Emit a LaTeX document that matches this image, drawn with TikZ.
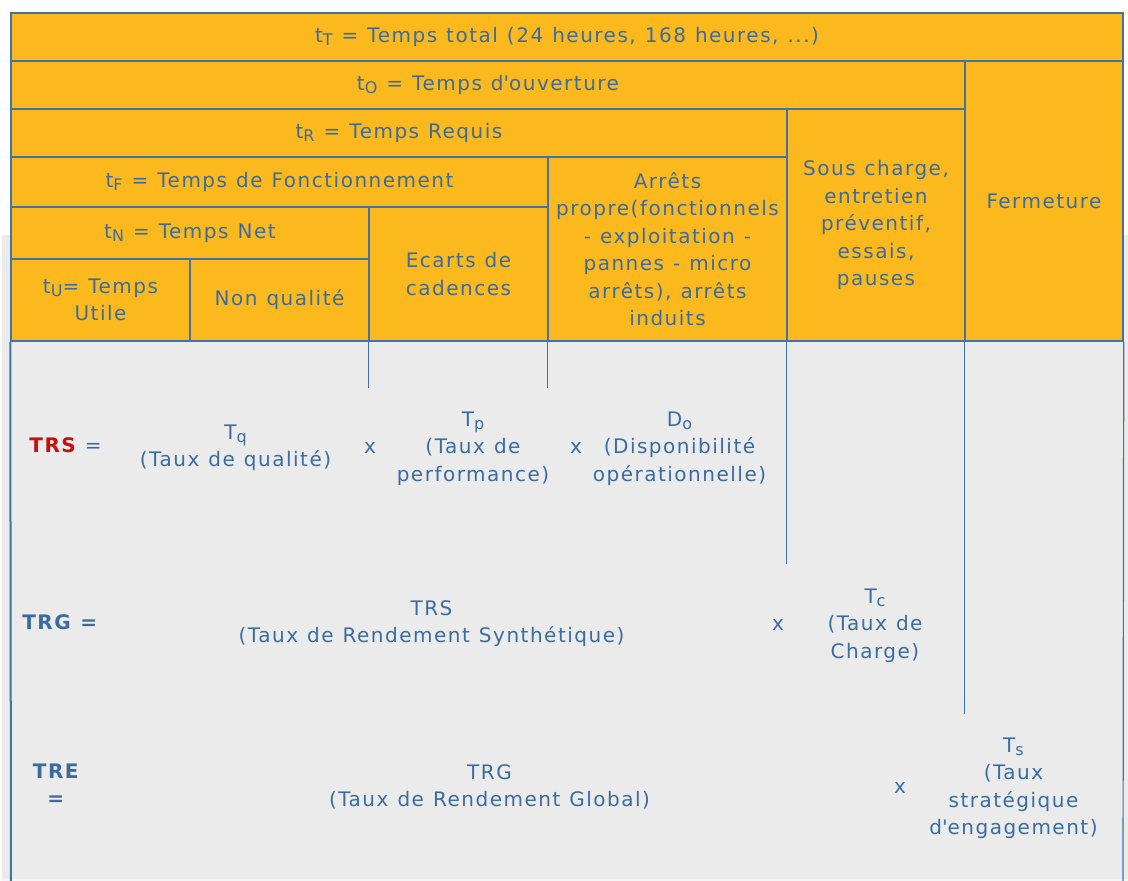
\documentclass[tikz,border=0pt]{standalone}
\usepackage{fontspec}
\setmainfont{DejaVu Sans}[LetterSpace=7.5, WordSpace=1.15]
\definecolor{orng}{RGB}{251,185,30}
\definecolor{txtb}{RGB}{58,108,160}
\definecolor{lineb}{RGB}{66,114,168}
\definecolor{bggrey}{RGB}{235,235,235}
\definecolor{trsred}{RGB}{196,16,16}
\newcommand\sbs[1]{\raisebox{-0.3ex}{\fontsize{16}{16}\selectfont #1}}
\newcommand\apo{\textquotesingle}
\begin{document}
\begin{tikzpicture}[x=1pt,y=-1pt,
  cell/.style={draw=lineb, line width=1.5pt, fill=orng, inner sep=0pt, text=txtb,
    align=center, font=\fontsize{20}{27.5}\selectfont},
  txt/.style={inner sep=0pt, text=txtb, align=center, font=\fontsize{20}{27.5}\selectfont},
  conn/.style={draw=lineb, line width=1.5pt}]
\fill[white] (0,0) rectangle (1128,881);
\useasboundingbox (0,0) rectangle (1128,881);
\fill[bggrey] (2,235) rectangle (1128,881);
\draw[white!50!bggrey, line width=2pt] (2,880) -- (1128,880);
% table cells
\node[cell, minimum width=1112pt, minimum height=48pt] (tT) at (567,37) {t\sbs{T} = Temps total (24 heures, 168 heures, ...)};
\node[cell, minimum width=954pt, minimum height=48pt] (tO) at (488,85) {t\sbs{O} = Temps d\apo ouverture};
\node[cell, minimum width=158pt, minimum height=280pt] (ferm) at (1044,201) {Fermeture};
\node[cell, minimum width=776pt, minimum height=48pt] (tR) at (399,133) {t\sbs{R} = Temps Requis};
\node[cell, minimum width=178pt, minimum height=232pt] (sous) at (876,225) {Sous charge,\\entretien\\préventif,\\essais,\\pauses};
\node[cell, minimum width=537pt, minimum height=50pt] (tF) at (279.5,182) {t\sbs{F} = Temps de Fonctionnement};
\node[cell, minimum width=239pt, minimum height=184pt] (arr) at (667.5,249) {Arrêts\\propre(fonctionnels\\- exploitation -\\pannes - micro\\arrêts), arrêts\\induits};
\node[cell, minimum width=358pt, minimum height=52pt] (tN) at (190,233) {t\sbs{N} = Temps Net};
\node[cell, minimum width=179pt, minimum height=134pt] (ec) at (458.5,274) {Ecarts de\\cadences};
\node[cell, minimum width=179pt, minimum height=82pt] (tU) at (100.5,300) {t\sbs{U}= Temps\\Utile};
\node[cell, minimum width=179pt, minimum height=82pt] (nq) at (279.5,300) {Non qualité};
% lower region borders
\coordinate (bl) at (11,881);
\coordinate (br) at (1123,881);
\draw[lineb, line width=2pt] (tU.south west) -- (bl);
\draw[lineb, line width=1.2pt] (ferm.south east) -- (br);
\draw[conn] (ec.south west) -- ++(0,46);
\draw[conn] (arr.south west) -- ++(0,46);
\draw[conn] (sous.south west) -- ++(0,222);
\draw[conn] (ferm.south west) -- ++(0,372);
% formulas
\node[txt] (trs) at (65.5,445) {\textbf{\color{trsred}TRS} =};
\node[txt] (tq) at (235.5,448) {T\sbs{q}\\(Taux de qualité)};
\node[txt] (x1) at (370,448) {x};
\node[txt] (tp) at (473,448.5) {T\sbs{p}\\(Taux de\\performance)};
\node[txt] (x2) at (576,448) {x};
\node[txt] (do) at (679.5,448.5) {D\sbs{o}\\(Disponibilité\\opérationnelle)};
\node[txt] (trg) at (60.5,622) {\textbf{TRG =}};
\node[txt] (trsb) at (431.5,623.5) {TRS\\(Taux de Rendement Synthétique)};
\node[txt] (x3) at (778,625) {x};
\node[txt] (tc) at (875,625.5) {T\sbs{c}\\(Taux de\\Charge)};
\node[txt] (tre) at (56.5,784.5) {\textbf{TRE}\\\textbf{=}};
\node[txt] (trgb) at (489.5,787) {TRG\\(Taux de Rendement Global)};
\node[txt] (x4) at (900,788) {x};
\node[txt] (ts) at (1013.5,788.5) {T\sbs{s}\\(Taux\\stratégique\\d\apo engagement)};
\end{tikzpicture}
\end{document}
